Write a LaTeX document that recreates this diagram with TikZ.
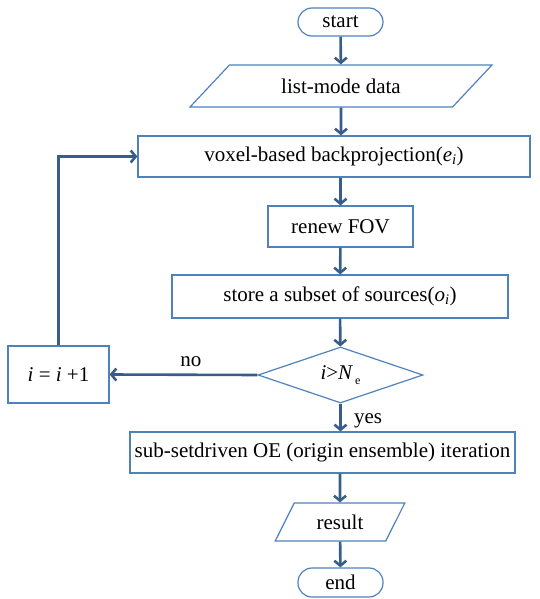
\documentclass[tikz,border=0pt]{standalone}
\usepackage{fontspec}
\setmainfont{Liberation Serif}
\usetikzlibrary{shapes.geometric,arrows.meta}
\definecolor{boxblue}{RGB}{79,129,189}
\definecolor{arrblue}{RGB}{56,93,138}
\begin{document}
\begin{tikzpicture}[x=1pt,y=-1pt,
	font=\fontsize{21}{25}\selectfont,
	base/.style={draw=boxblue,line width=1.2pt,inner sep=0pt,text=black},
	term/.style={base,rectangle,rounded corners=14pt,minimum width=85pt,minimum height=28pt},
	io/.style={base,trapezium,trapezium stretches=true,minimum height=#1},
	proc/.style={base,rectangle},
	cond/.style={base,diamond,aspect=3,minimum width=165pt,minimum height=56pt},
	arr/.style={arrblue,line width=2.6pt,-{Straight Barb[length=5pt,width=12pt]}}]
	\useasboundingbox (0,0) rectangle (539,599);
	\node[term] (start) at (340.5,22) {start};
	\node[io=42pt,trapezium left angle=35,trapezium right angle=145,minimum width=302pt] (data) at (341,86) {list-mode data};
	\node[proc,minimum width=392pt,minimum height=41pt] (voxel) at (334,156.5) {voxel-based backprojection(\textit{e}\textsubscript{\textit{i}})};
	\node[proc,minimum width=145pt,minimum height=41pt] (renew) at (340.5,226.5) {renew FOV};
	\node[proc,minimum width=336pt,minimum height=43pt] (store) at (340,296.5) {store a subset of sources(\textit{o}\textsubscript{\textit{i}})};
	\node[cond] (test) at (340.5,375) {\textit{i}{>}\textit{N}\raisebox{-0.45ex}{\fontsize{12}{12}\selectfont\,e}};
	\node[proc,minimum width=101pt,minimum height=57pt] (incr) at (58.5,374.5) {\textit{i} = \textit{i} +1};
	\node[proc,minimum width=385pt,minimum height=41pt] (iter) at (322.5,452.5) {sub-setdriven OE (origin ensemble) iteration};
	\node[io=38pt,trapezium left angle=56.7,trapezium right angle=123.3,minimum width=130pt] (result) at (340,522) {result};
	\node[term,minimum height=29pt] (end) at (340.5,582.5) {end};
	\draw[arr] (start)--(data);
	\draw[arr] (data)--(data|-voxel.north);
	\draw[arr] (voxel.south-|renew)--(renew);
	\draw[arr] (renew)--(store);
	\draw[arr] (store)--(test);
	\draw[arr] (test.west)--node[above=3pt,text=black,pos=0.45]{no}(incr.east);
	\draw[arr] (incr.north)|-(voxel.west);
	\draw[arr] (test.south)--node[right=9pt,text=black,yshift=-3pt]{yes}(test.south|-iter.north);
	\draw[arr] (iter.south-|result)--(result);
	\draw[arr] (result)--(end);
\end{tikzpicture}
\end{document}
